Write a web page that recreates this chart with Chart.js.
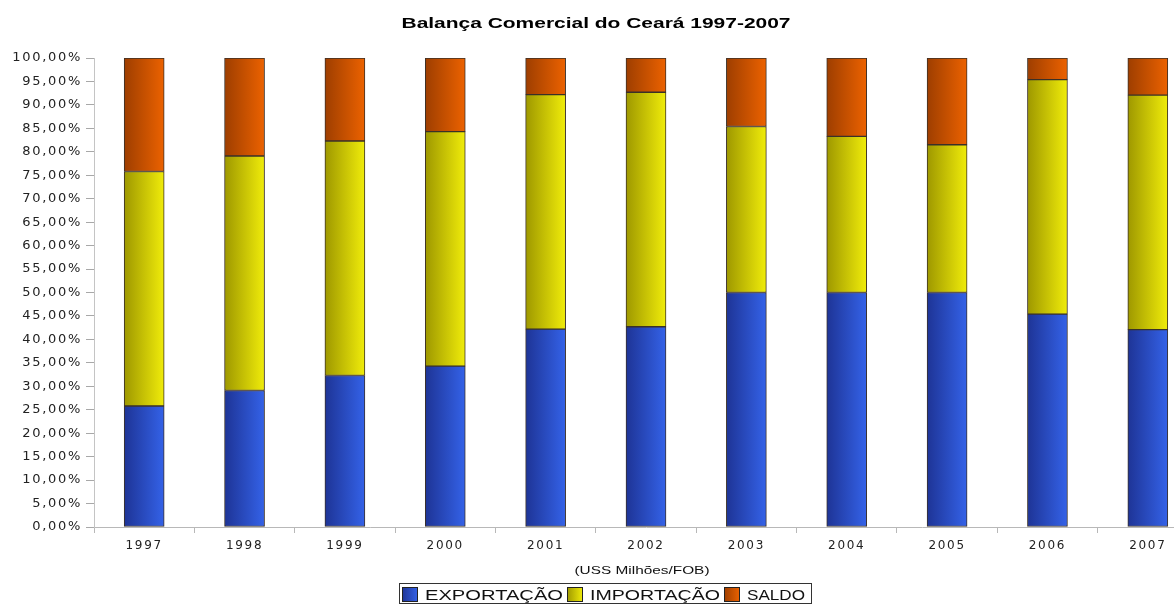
<!DOCTYPE html>
<html>
<head>
<meta charset="utf-8">
<script src="https://cdn.jsdelivr.net/npm/chart.js@4.4.1/dist/chart.umd.min.js"></script>
<style>
html,body{margin:0;padding:0;background:#fff;overflow:hidden;}
#wrap{width:1174px;height:605px;overflow:hidden;position:relative;background:#fff;}
canvas{display:block;}
</style>
</head>
<body>
<div id="wrap"><canvas id="c" width="1200" height="605"></canvas></div>
<script>
const chartTitle = 'Balança Comercial do Ceará 1997-2007';
const xAxisTitle = '(USS Milhões/FOB)';
const categories = ['1997','1998','1999','2000','2001','2002','2003','2004','2005','2006','2007'];
const seriesNames = ['EXPORTAÇÃO','IMPORTAÇÃO','SALDO'];
const exportacao = [25.8, 29.1, 32.3, 34.3, 42.2, 42.7, 50.0, 50.0, 50.0, 45.4, 42.1];
const importacao = [50.0, 50.0, 50.0, 50.0, 50.0, 50.0, 35.4, 33.3, 31.5, 50.0, 50.0];
const saldo      = [24.2, 20.9, 17.7, 15.7,  7.8,  7.3, 14.6, 16.7, 18.5,  4.6,  7.9];
const yTickValues = [0,5,10,15,20,25,30,35,40,45,50,55,60,65,70,75,80,85,90,95,100];
const yTickLabels = ['0,00%','5,00%','10,00%','15,00%','20,00%','25,00%','30,00%','35,00%','40,00%','45,00%','50,00%','55,00%','60,00%','65,00%','70,00%','75,00%','80,00%','85,00%','90,00%','95,00%','100,00%'];

const palette = [
  ['rgb(30,52,150)', 'rgb(52,98,232)'],
  ['rgb(158,152,0)', 'rgb(240,236,10)'],
  ['rgb(158,62,0)',  'rgb(236,98,0)']
];
const BAR_W = 40;

function gradFill(i) {
  return (ctx) => {
    const chart = ctx.chart;
    const xs = chart.scales && chart.scales.x;
    if (!xs || ctx.dataIndex === undefined || !chart.chartArea) return palette[i][1];
    const cx = xs.getPixelForValue(ctx.dataIndex);
    const g = chart.ctx.createLinearGradient(cx - BAR_W/2, 0, cx + BAR_W/2, 0);
    g.addColorStop(0, palette[i][0]);
    g.addColorStop(1, palette[i][1]);
    return g;
  };
}

function drawStretched(ctx, text, font, cx, baseline, targetW, color, align) {
  ctx.save();
  ctx.font = font;
  ctx.letterSpacing = '0px';
  const w = ctx.measureText(text).width;
  const s = targetW / w;
  ctx.fillStyle = color;
  ctx.textBaseline = 'alphabetic';
  ctx.textAlign = 'left';
  const left = align === 'left' ? cx : cx - targetW/2;
  ctx.translate(left, baseline);
  ctx.scale(s, 1);
  ctx.fillText(text, 0, 0);
  ctx.restore();
}

const decor = {
  id: 'decor',
  beforeDraw(chart) {
    chart.ctx.letterSpacing = '1.7px';
  },
  afterDraw(chart) {
    const ctx = chart.ctx;
    // title
    drawStretched(ctx, chartTitle, 'bold 14px "Liberation Sans"', 596, 28, 389, '#000');
    // x axis title
    drawStretched(ctx, xAxisTitle, '11px "Liberation Sans"', 642, 574, 135, '#111');
    // legend
    const font = '15px "Liberation Sans"';
    const textW = [138, 130, 58];
    const boxW = 16, boxH = 15;
    const top = 583, bottom = 603;
    let x = 402;
    const legendLeft = 399;
    ctx.save();
    ctx.letterSpacing = '0px';
    for (let i = 0; i < seriesNames.length; i++) {
      const by = 587;
      const g = ctx.createLinearGradient(x, 0, x + boxW, 0);
      g.addColorStop(0, palette[i][0]);
      g.addColorStop(1, palette[i][1]);
      ctx.fillStyle = g;
      ctx.fillRect(x, by, boxW, boxH);
      ctx.strokeStyle = '#222';
      ctx.lineWidth = 1;
      ctx.strokeRect(x + 0.5, by + 0.5, boxW - 1, boxH - 1);
      x += boxW + 7;
      drawStretched(ctx, seriesNames[i], font, x, 600, textW[i], '#111', 'left');
      x += textW[i] + 4;
    }
    ctx.strokeStyle = '#333';
    ctx.lineWidth = 1;
    ctx.strokeRect(legendLeft + 0.5, top + 0.5, x + 2 - legendLeft, bottom - top);
    ctx.restore();
  }
};

const datasets = [exportacao, importacao, saldo].map((data, i) => ({
  label: seriesNames[i],
  data: data,
  backgroundColor: gradFill(i),
  borderColor: '#3a3028',
  borderWidth: 1,
  barThickness: BAR_W,
  borderSkipped: false
}));

new Chart(document.getElementById('c'), {
  type: 'bar',
  data: { labels: categories, datasets: datasets },
  plugins: [decor],
  options: {
    responsive: false,
    animation: false,
    layout: { padding: { top: 58, right: 2, bottom: 0, left: 0 } },
    plugins: {
      legend: { display: false },
      title: { display: false },
      tooltip: { enabled: false }
    },
    scales: {
      x: {
        stacked: true,
        offset: true,
        grid: { display: true, drawOnChartArea: false, drawTicks: true, tickLength: 6, color: '#b8b8b8', offset: true },
        border: { display: true, color: '#b8b8b8', width: 1 },
        ticks: { color: '#222', font: { family: '"DejaVu Sans"', size: 12 }, padding: 6, maxRotation: 0, autoSkip: false },
        afterFit(scale) { scale.height = 78; }
      },
      y: {
        stacked: true,
        min: 0,
        max: 100,
        afterBuildTicks(scale) { scale.ticks = yTickValues.map(v => ({ value: v })); },
        grid: { display: true, drawOnChartArea: false, drawTicks: true, tickLength: 8, color: '#a8a8a8' },
        border: { display: true, color: '#c4c4c4', width: 1 },
        ticks: {
          color: '#222',
          font: { family: '"DejaVu Sans"', size: 13 },
          padding: 4,
          callback: (v) => yTickLabels[yTickValues.indexOf(v)]
        },
        afterFit(scale) { scale.width = 94; }
      }
    }
  }
});
</script>
</body>
</html>
